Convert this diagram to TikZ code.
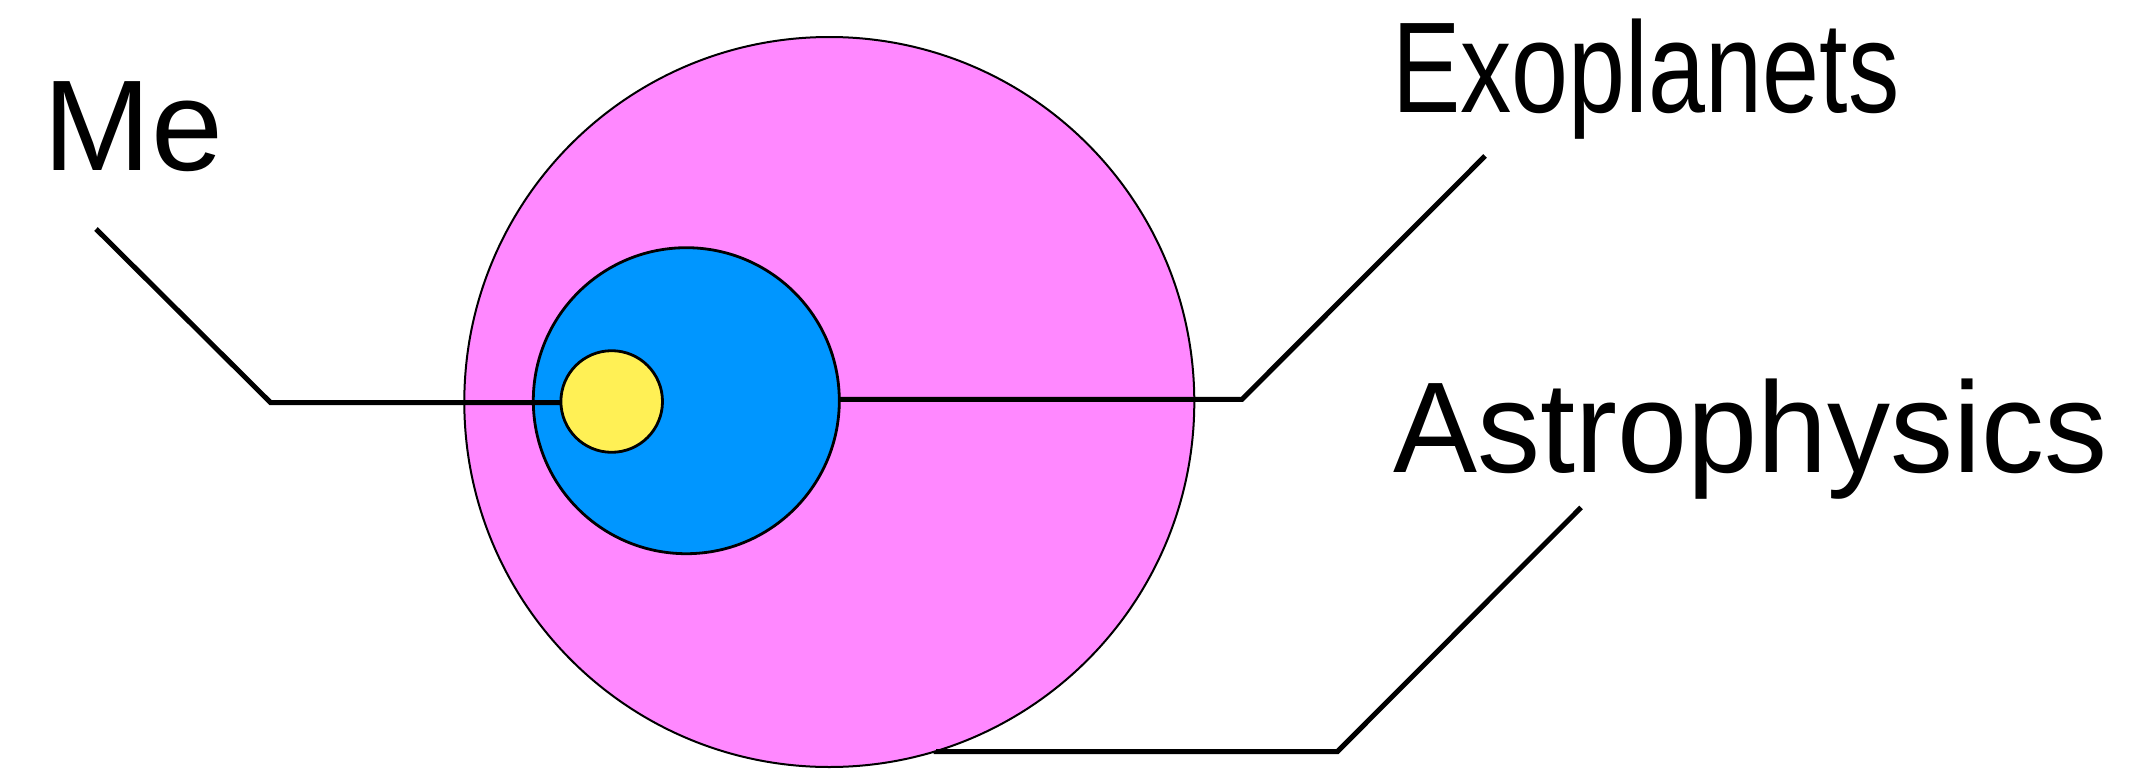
\documentclass[tikz,border=0pt]{standalone}
\usepackage{fontspec}
\setmainfont{Liberation Sans}
\definecolor{pinkc}{RGB}{255,136,255}
\definecolor{bluec}{RGB}{0,150,255}
\definecolor{yellowc}{RGB}{255,240,85}
\begin{document}
\begin{tikzpicture}[x=0.5pt,y=-0.5pt,
  ball/.style={circle,draw=black,inner sep=0pt,outer sep=0pt},
  lbl/.style={anchor=base west,inner sep=0pt,font=\fontsize{64.6pt}{70pt}\selectfont},
  conn/.style={draw=black,line width=2.5pt,line join=miter}]
\useasboundingbox (0,0) rectangle (2137,771);
\node[ball,fill=pinkc,line width=1pt,minimum size=365pt] (pink) at (829.3,402) {};
\node[ball,fill=bluec,line width=1.4pt,minimum size=153pt] (blue) at (686.3,400.7) {};
\node[ball,fill=yellowc,line width=1.4pt,minimum size=50.8pt] (yellow) at (611.7,401.5) {};
\coordinate (meStart) at (96,229);
\coordinate (meCorner) at (270.5,402.5);
\coordinate (exCorner) at (1242,399.3);
\coordinate (exEnd) at (1485,156);
\coordinate (asCorner) at (1337.5,751.5);
\coordinate (asEnd) at (1581,507.5);
\draw[conn] (meStart) -- (meCorner) -- (yellow.west |- meCorner);
\draw[conn] (blue.east |- exCorner) -- (exCorner) -- (exEnd);
\draw[conn] (pink.-73) |- (asCorner) -- (asEnd);
\node[lbl] (me) at (43.2,170.7) {Me};
\node[lbl] (ex) at (1392,112.7) {\scalebox{0.793}[1]{Exoplanets}};
\node[lbl] (as) at (1393,472.7) {\scalebox{0.975}[1]{Astrophysics}};
\end{tikzpicture}
\end{document}
